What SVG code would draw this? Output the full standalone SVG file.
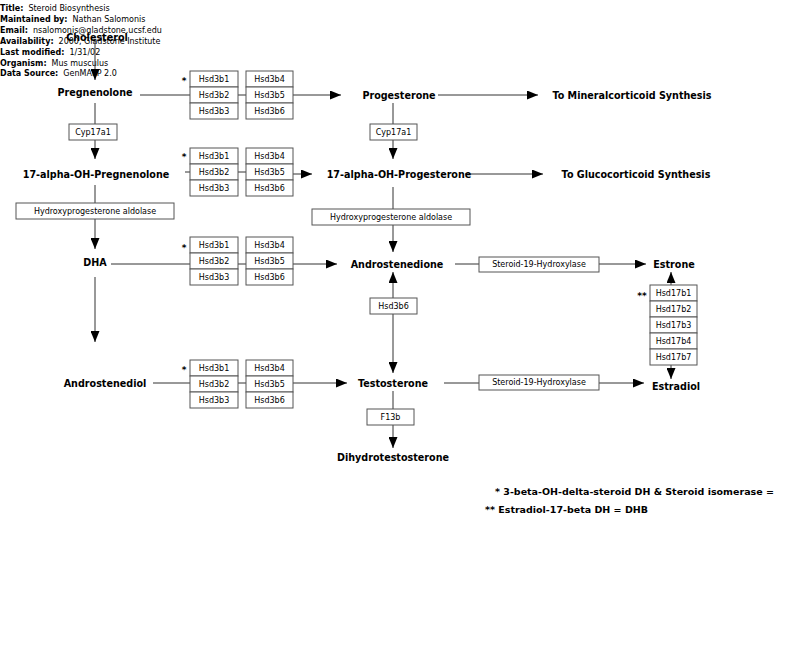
<svg xmlns="http://www.w3.org/2000/svg" width="800" height="659" viewBox="0 0 800 659">
<style>
.hd{font-family:"DejaVu Sans",sans-serif;font-size:8px;fill:#000}
.hb{font-weight:bold}
.lb{font-family:"DejaVu Sans",sans-serif;font-size:9.6px;font-weight:bold;fill:#000;text-anchor:middle}
.r{fill:#fff;stroke:#555;stroke-width:1}
.t{font-family:"DejaVu Sans",sans-serif;font-size:8px;fill:#000;text-anchor:middle}
.ln{stroke:#333;stroke-width:1;fill:none}
.ar{marker-end:url(#ah)}
.st{font-family:"DejaVu Sans",sans-serif;font-size:9px;font-weight:bold;fill:#000;text-anchor:middle}
.fn{font-family:"DejaVu Sans",sans-serif;font-size:9.5px;font-weight:bold;fill:#000}
</style>
<defs>
<marker id="ah" markerWidth="11" markerHeight="9" refX="11" refY="4.5" orient="auto" markerUnits="userSpaceOnUse">
<path d="M0,0 L11,4.5 L0,9 Z" fill="#000"/>
</marker>
</defs>
<rect width="800" height="659" fill="#fff"/>

<g id="header">
<text class="hd" x="0" y="11"><tspan class="hb">Title:</tspan><tspan dx="5">Steroid Biosynthesis</tspan></text>
<text class="hd" x="0" y="22"><tspan class="hb">Maintained by:</tspan><tspan dx="5">Nathan Salomonis</tspan></text>
<text class="hd" x="0" y="33"><tspan class="hb">Email:</tspan><tspan dx="5">nsalomonis@gladstone.ucsf.edu</tspan></text>
<text class="hd" x="0" y="44"><tspan class="hb">Availability:</tspan><tspan dx="5">2000, Gladstone Institute</tspan></text>
<text class="hd" x="0" y="55"><tspan class="hb">Last modified:</tspan><tspan dx="5">1/31/02</tspan></text>
<text class="hd" x="0" y="66"><tspan class="hb">Organism:</tspan><tspan dx="5">Mus musculus</tspan></text>
<text class="hd" x="0" y="76"><tspan class="hb">Data Source:</tspan><tspan dx="5">GenMAPP 2.0</tspan></text>
</g>

<g id="connectors">
<line class="ln ar" x1="95" y1="42" x2="95" y2="80"/>
<line class="ln" x1="140" y1="95" x2="190" y2="95"/>
<line class="ln" x1="238" y1="95" x2="246" y2="95"/>
<line class="ln ar" x1="293" y1="95" x2="341" y2="95"/>
<line class="ln ar" x1="438" y1="95" x2="538" y2="95"/>
<line class="ln" x1="95" y1="103" x2="95" y2="124"/>
<line class="ln ar" x1="95" y1="140" x2="95" y2="159"/>
<line class="ln" x1="393" y1="103" x2="393" y2="124"/>
<line class="ln ar" x1="393" y1="140" x2="393" y2="159"/>
<line class="ln" x1="185" y1="172" x2="190" y2="172"/>
<line class="ln" x1="238" y1="172" x2="246" y2="172"/>
<line class="ln ar" x1="293" y1="174" x2="312" y2="174"/>
<line class="ln ar" x1="465" y1="174" x2="543" y2="174"/>
<line class="ln" x1="95" y1="185" x2="95" y2="203"/>
<line class="ln ar" x1="95" y1="219" x2="95" y2="249"/>
<line class="ln" x1="393" y1="187" x2="393" y2="209"/>
<line class="ln ar" x1="393" y1="225" x2="393" y2="252"/>
<line class="ln" x1="111" y1="264" x2="190" y2="264"/>
<line class="ln" x1="238" y1="264" x2="246" y2="264"/>
<line class="ln ar" x1="293" y1="264" x2="337" y2="264"/>
<line class="ln ar" x1="95" y1="277" x2="95" y2="342"/>
<line class="ln" x1="455" y1="264" x2="479" y2="264"/>
<line class="ln ar" x1="599" y1="264" x2="646" y2="264"/>
<line class="ln ar" x1="393" y1="298" x2="393" y2="272"/>
<line class="ln ar" x1="393" y1="314" x2="393" y2="373"/>
<line class="ln ar" x1="671" y1="285" x2="671" y2="272"/>
<line class="ln ar" x1="671" y1="365" x2="671" y2="379"/>
<line class="ln" x1="153" y1="383" x2="190" y2="383"/>
<line class="ln" x1="238" y1="383" x2="246" y2="383"/>
<line class="ln ar" x1="293" y1="383" x2="347" y2="383"/>
<line class="ln" x1="444" y1="383" x2="479" y2="383"/>
<line class="ln ar" x1="599" y1="383" x2="644" y2="383"/>
<line class="ln" x1="393" y1="391" x2="393" y2="409"/>
<line class="ln ar" x1="393" y1="425" x2="393" y2="448"/>
</g>

<g id="cholesterol"><text class="lb" x="97" y="41">Cholesterol</text></g>
<g id="pregnenolone"><text class="lb" x="95" y="96">Pregnenolone</text></g>
<g id="progesterone"><text class="lb" x="399" y="99">Progesterone</text></g>
<g id="mineralcorticoid"><text class="lb" x="632" y="99">To Mineralcorticoid Synthesis</text></g>
<g id="ohpreg"><text class="lb" x="96" y="178">17-alpha-OH-Pregnenolone</text></g>
<g id="ohprog"><text class="lb" x="399" y="178">17-alpha-OH-Progesterone</text></g>
<g id="glucocorticoid"><text class="lb" x="636" y="178">To Glucocorticoid Synthesis</text></g>
<g id="dha"><text class="lb" x="95" y="266">DHA</text></g>
<g id="androstenedione"><text class="lb" x="397" y="268">Androstenedione</text></g>
<g id="estrone"><text class="lb" x="674" y="268">Estrone</text></g>
<g id="androstenediol"><text class="lb" x="105" y="387">Androstenediol</text></g>
<g id="testosterone"><text class="lb" x="393" y="387">Testosterone</text></g>
<g id="estradiol"><text class="lb" x="676" y="390">Estradiol</text></g>
<g id="dihydrotestosterone"><text class="lb" x="393" y="461">Dihydrotestosterone</text></g>

<g id="cyp17a1-a"><rect class="r" x="69" y="124" width="48" height="16"/><text class="t" x="93" y="135">Cyp17a1</text></g>
<g id="cyp17a1-b"><rect class="r" x="370" y="124" width="47" height="16"/><text class="t" x="393.5" y="135">Cyp17a1</text></g>
<g id="aldolase-a"><rect class="r" x="16" y="203" width="158" height="16"/><text class="t" x="95" y="214">Hydroxyprogesterone aldolase</text></g>
<g id="aldolase-b"><rect class="r" x="312" y="209" width="158" height="16"/><text class="t" x="391" y="220">Hydroxyprogesterone aldolase</text></g>
<g id="hsd3b6-single"><rect class="r" x="370" y="298" width="47" height="16"/><text class="t" x="393.5" y="309">Hsd3b6</text></g>
<g id="s19h-a"><rect class="r" x="479" y="257" width="120" height="15"/><text class="t" x="539" y="267">Steroid-19-Hydroxylase</text></g>
<g id="s19h-b"><rect class="r" x="479" y="375" width="120" height="15"/><text class="t" x="539" y="385">Steroid-19-Hydroxylase</text></g>
<g id="f13b"><rect class="r" x="367" y="409" width="47" height="16"/><text class="t" x="390.5" y="420">F13b</text></g>

<g id="hsd3-group1">
<rect class="r" x="190" y="71" width="48" height="16"/><text class="t" x="214" y="82">Hsd3b1</text>
<rect class="r" x="190" y="87" width="48" height="16"/><text class="t" x="214" y="98">Hsd3b2</text>
<rect class="r" x="190" y="103" width="48" height="16"/><text class="t" x="214" y="114">Hsd3b3</text>
<rect class="r" x="246" y="71" width="47" height="16"/><text class="t" x="269.5" y="82">Hsd3b4</text>
<rect class="r" x="246" y="87" width="47" height="16"/><text class="t" x="269.5" y="98">Hsd3b5</text>
<rect class="r" x="246" y="103" width="47" height="16"/><text class="t" x="269.5" y="114">Hsd3b6</text>
<text class="st" x="184" y="84">*</text>
</g>
<g id="hsd3-group2">
<rect class="r" x="190" y="148" width="48" height="16"/><text class="t" x="214" y="159">Hsd3b1</text>
<rect class="r" x="190" y="164" width="48" height="16"/><text class="t" x="214" y="175">Hsd3b2</text>
<rect class="r" x="190" y="180" width="48" height="16"/><text class="t" x="214" y="191">Hsd3b3</text>
<rect class="r" x="246" y="148" width="47" height="16"/><text class="t" x="269.5" y="159">Hsd3b4</text>
<rect class="r" x="246" y="164" width="47" height="16"/><text class="t" x="269.5" y="175">Hsd3b5</text>
<rect class="r" x="246" y="180" width="47" height="16"/><text class="t" x="269.5" y="191">Hsd3b6</text>
<text class="st" x="184" y="160">*</text>
</g>
<g id="hsd3-group3">
<rect class="r" x="190" y="237" width="48" height="16"/><text class="t" x="214" y="248">Hsd3b1</text>
<rect class="r" x="190" y="253" width="48" height="16"/><text class="t" x="214" y="264">Hsd3b2</text>
<rect class="r" x="190" y="269" width="48" height="16"/><text class="t" x="214" y="280">Hsd3b3</text>
<rect class="r" x="246" y="237" width="47" height="16"/><text class="t" x="269.5" y="248">Hsd3b4</text>
<rect class="r" x="246" y="253" width="47" height="16"/><text class="t" x="269.5" y="264">Hsd3b5</text>
<rect class="r" x="246" y="269" width="47" height="16"/><text class="t" x="269.5" y="280">Hsd3b6</text>
<text class="st" x="184" y="251">*</text>
</g>
<g id="hsd3-group4">
<rect class="r" x="190" y="360" width="48" height="16"/><text class="t" x="214" y="371">Hsd3b1</text>
<rect class="r" x="190" y="376" width="48" height="16"/><text class="t" x="214" y="387">Hsd3b2</text>
<rect class="r" x="190" y="392" width="48" height="16"/><text class="t" x="214" y="403">Hsd3b3</text>
<rect class="r" x="246" y="360" width="47" height="16"/><text class="t" x="269.5" y="371">Hsd3b4</text>
<rect class="r" x="246" y="376" width="47" height="16"/><text class="t" x="269.5" y="387">Hsd3b5</text>
<rect class="r" x="246" y="392" width="47" height="16"/><text class="t" x="269.5" y="403">Hsd3b6</text>
<text class="st" x="184" y="373">*</text>
</g>

<g id="hsd17-group">
<rect class="r" x="650" y="285" width="47" height="16"/><text class="t" x="673.5" y="296">Hsd17b1</text>
<rect class="r" x="650" y="301" width="47" height="16"/><text class="t" x="673.5" y="312">Hsd17b2</text>
<rect class="r" x="650" y="317" width="47" height="16"/><text class="t" x="673.5" y="328">Hsd17b3</text>
<rect class="r" x="650" y="333" width="47" height="16"/><text class="t" x="673.5" y="344">Hsd17b4</text>
<rect class="r" x="650" y="349" width="47" height="16"/><text class="t" x="673.5" y="360">Hsd17b7</text>
<text class="st" x="642" y="299">**</text>
</g>

<g id="footnotes">
<text class="fn" x="495" y="495">* 3-beta-OH-delta-steroid DH &amp; Steroid isomerase =</text>
<text class="fn" x="485" y="513">** Estradiol-17-beta DH = DHB</text>
</g>
</svg>
